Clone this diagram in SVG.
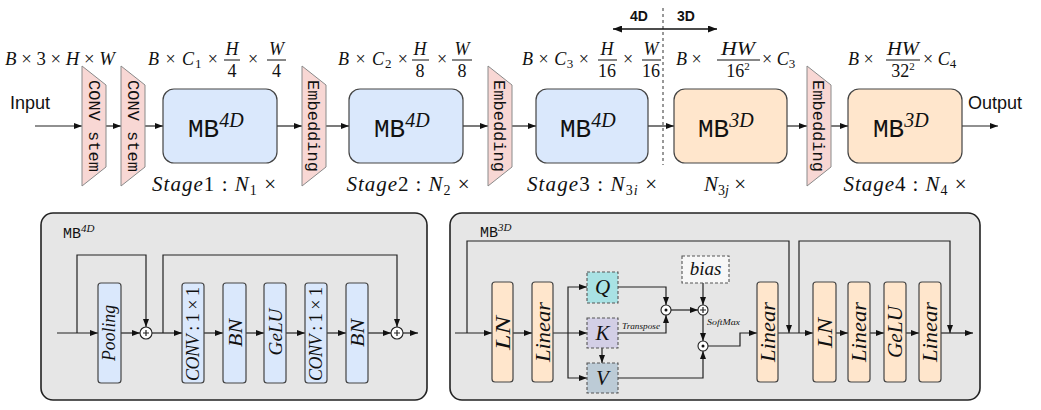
<svg xmlns="http://www.w3.org/2000/svg" width="1041" height="410" viewBox="0 0 1041 410">
<defs>
<marker id="ah" markerWidth="8" markerHeight="6" refX="8" refY="3" orient="auto" markerUnits="userSpaceOnUse"><path d="M0,0 L8,3 L0,6 z" fill="#111"/></marker>
<marker id="ahs" markerWidth="9" markerHeight="7" refX="9" refY="3.5" orient="auto-start-reverse" markerUnits="userSpaceOnUse"><path d="M0,0 L9,3.5 L0,7 z" fill="#111"/></marker>
</defs>
<style>
.ln{fill:none;stroke:#222;stroke-width:1.2}
.ar{fill:none;stroke:#222;stroke-width:1.2;marker-end:url(#ah)}
.trap{fill:#f8d7d4;stroke:#8a8a8a;stroke-width:1}
.mono{font-family:"Liberation Mono","DejaVu Sans Mono",monospace;fill:#111}
.m{font-family:"Liberation Serif","DejaVu Serif","Noto Serif",serif;fill:#111}
.i{font-style:italic}
.sans{font-family:"Liberation Sans",Arial,sans-serif;fill:#111}
.b4{fill:#dae8fc;stroke:#444;stroke-width:1.2}
.b3{fill:#ffe6cc;stroke:#444;stroke-width:1.2}
.panel{fill:#e6e6e6;stroke:#222;stroke-width:1.6}
.circ{fill:#fff;stroke:#222;stroke-width:1.1}
.frac{stroke:#111;stroke-width:1}
</style>
<rect x="0" y="0" width="1041" height="410" fill="#fff"/>

<g id="divider">
<line x1="663" y1="8" x2="663" y2="165" stroke="#333" stroke-width="1" stroke-dasharray="3,3"/>
<line x1="613" y1="29" x2="717" y2="29" stroke="#111" stroke-width="1.3" marker-start="url(#ahs)" marker-end="url(#ahs)"/>
<text class="sans" x="639" y="21" font-size="14" font-weight="bold" text-anchor="middle">4D</text>
<text class="sans" x="686" y="21" font-size="14" font-weight="bold" text-anchor="middle">3D</text>
</g>

<g id="top-connectors">
<line class="ar" x1="35" y1="126" x2="82" y2="126"/>
<line class="ar" x1="106" y1="126" x2="121" y2="126"/>
<line class="ar" x1="145" y1="126" x2="163" y2="126"/>
<line class="ar" x1="277" y1="126" x2="302" y2="126"/>
<line class="ar" x1="326" y1="126" x2="349" y2="126"/>
<line class="ar" x1="463" y1="126" x2="488" y2="126"/>
<line class="ar" x1="512" y1="126" x2="536" y2="126"/>
<line class="ar" x1="648" y1="126" x2="674" y2="126"/>
<line class="ar" x1="787" y1="126" x2="807" y2="126"/>
<line class="ar" x1="831" y1="126" x2="848" y2="126"/>
<line class="ar" x1="962" y1="126" x2="998" y2="126"/>
</g>

<text class="sans" x="10" y="109" font-size="18">Input</text>
<text class="sans" x="968" y="109" font-size="18">Output</text>

<g id="dims">
<text class="m" x="5" y="65" font-size="18" textLength="110" lengthAdjust="spacingAndGlyphs"><tspan class="i">B</tspan> × 3 × <tspan class="i">H</tspan> × <tspan class="i">W</tspan></text>

<text class="m" x="148" y="65" font-size="18" textLength="70" lengthAdjust="spacing"><tspan class="i">B</tspan> × <tspan class="i">C</tspan><tspan font-size="13" dy="3">1</tspan><tspan dy="-3"> ×</tspan></text>
<text class="m i" x="232" y="55" font-size="18" text-anchor="middle">H</text>
<line class="frac" x1="224" y1="60" x2="240" y2="60"/>
<text class="m" x="232" y="77" font-size="18" text-anchor="middle">4</text>
<text class="m" x="253" y="65" font-size="18" text-anchor="middle">×</text>
<text class="m i" x="276.5" y="55" font-size="18" text-anchor="middle">W</text>
<line class="frac" x1="267" y1="60" x2="286" y2="60"/>
<text class="m" x="276.5" y="77" font-size="18" text-anchor="middle">4</text>

<text class="m" x="338" y="65" font-size="18" textLength="70" lengthAdjust="spacing"><tspan class="i">B</tspan> × <tspan class="i">C</tspan><tspan font-size="13" dy="3">2</tspan><tspan dy="-3"> ×</tspan></text>
<text class="m i" x="420" y="55" font-size="18" text-anchor="middle">H</text>
<line class="frac" x1="412" y1="60" x2="429" y2="60"/>
<text class="m" x="420" y="77" font-size="18" text-anchor="middle">8</text>
<text class="m" x="442" y="65" font-size="18" text-anchor="middle">×</text>
<text class="m i" x="462" y="55" font-size="18" text-anchor="middle">W</text>
<line class="frac" x1="452" y1="60" x2="472" y2="60"/>
<text class="m" x="462" y="77" font-size="18" text-anchor="middle">8</text>

<text class="m" x="522" y="65" font-size="18" textLength="67" lengthAdjust="spacing"><tspan class="i">B</tspan> × <tspan class="i">C</tspan><tspan font-size="13" dy="3">3</tspan><tspan dy="-3"> ×</tspan></text>
<text class="m i" x="607" y="55" font-size="18" text-anchor="middle">H</text>
<line class="frac" x1="598" y1="60" x2="617" y2="60"/>
<text class="m" x="607" y="77" font-size="18" text-anchor="middle">16</text>
<text class="m" x="628" y="65" font-size="18" text-anchor="middle">×</text>
<text class="m i" x="651" y="55" font-size="18" text-anchor="middle">W</text>
<line class="frac" x1="642" y1="60" x2="661" y2="60"/>
<text class="m" x="651" y="77" font-size="18" text-anchor="middle">16</text>

<text class="m" x="676" y="65" font-size="18"><tspan class="i">B</tspan> ×</text>
<text class="m i" x="738" y="55" font-size="18" text-anchor="middle" textLength="34" lengthAdjust="spacingAndGlyphs">HW</text>
<line class="frac" x1="717" y1="60" x2="760" y2="60"/>
<text class="m" x="738" y="77" font-size="18" text-anchor="middle">16<tspan font-size="11" dy="-7">2</tspan></text>
<text class="m" x="762" y="65" font-size="18">× <tspan class="i">C</tspan><tspan font-size="13" dy="3">3</tspan></text>

<text class="m" x="848" y="65" font-size="18"><tspan class="i">B</tspan> ×</text>
<text class="m i" x="903" y="55" font-size="18" text-anchor="middle" textLength="32" lengthAdjust="spacingAndGlyphs">HW</text>
<line class="frac" x1="886" y1="60" x2="920" y2="60"/>
<text class="m" x="903" y="77" font-size="18" text-anchor="middle">32<tspan font-size="11" dy="-7">2</tspan></text>
<text class="m" x="923" y="65" font-size="18">× <tspan class="i">C</tspan><tspan font-size="13" dy="3">4</tspan></text>
</g>

<g id="stem1">
<polygon class="trap" points="82,66 106,85 106,167 82,186"/>
<text class="mono" font-size="17" text-anchor="middle" transform="translate(94.5,126) rotate(90)" y="6">CONV stem</text>
</g>
<g id="stem2">
<polygon class="trap" points="121,66 145,85 145,167 121,186"/>
<text class="mono" font-size="17" text-anchor="middle" transform="translate(133.5,126) rotate(90)" y="6">CONV stem</text>
</g>
<g id="stage1">
<rect class="b4" x="163" y="89" width="114" height="74" rx="11"/>
<text x="188" y="137"><tspan class="mono" font-size="26">MB</tspan><tspan class="m i" font-size="20" dy="-10">4D</tspan></text>
<text class="m" x="214" y="191" font-size="21" text-anchor="middle" textLength="124" lengthAdjust="spacing"><tspan class="i">Stage</tspan>1 : <tspan class="i">N</tspan><tspan font-size="14" dy="4">1</tspan><tspan dy="-4"> ×</tspan></text>
</g>
<g id="embed1">
<polygon class="trap" points="302,66 326,85 326,167 302,186"/>
<text class="mono" font-size="17" text-anchor="middle" transform="translate(314,126) rotate(90)" y="6">Embedding</text>
</g>
<g id="stage2">
<rect class="b4" x="349" y="89" width="114" height="74" rx="11"/>
<text x="374" y="137"><tspan class="mono" font-size="26">MB</tspan><tspan class="m i" font-size="20" dy="-10">4D</tspan></text>
<text class="m" x="408" y="191" font-size="21" text-anchor="middle" textLength="123" lengthAdjust="spacing"><tspan class="i">Stage</tspan>2 : <tspan class="i">N</tspan><tspan font-size="14" dy="4">2</tspan><tspan dy="-4"> ×</tspan></text>
</g>
<g id="embed2">
<polygon class="trap" points="488,66 512,85 512,167 488,186"/>
<text class="mono" font-size="17" text-anchor="middle" transform="translate(500,126) rotate(90)" y="6">Embedding</text>
</g>
<g id="stage3a">
<rect class="b4" x="536" y="89" width="112" height="74" rx="11"/>
<text x="560" y="137"><tspan class="mono" font-size="26">MB</tspan><tspan class="m i" font-size="20" dy="-10">4D</tspan></text>
<text class="m" x="592" y="191" font-size="21" text-anchor="middle" textLength="130" lengthAdjust="spacing"><tspan class="i">Stage</tspan>3 : <tspan class="i">N</tspan><tspan font-size="14" dy="4">3<tspan class="i">i</tspan></tspan><tspan dy="-4"> ×</tspan></text>
</g>
<g id="stage3b">
<rect class="b3" x="674" y="89" width="113" height="74" rx="11"/>
<text x="698" y="137"><tspan class="mono" font-size="26">MB</tspan><tspan class="m i" font-size="20" dy="-10">3D</tspan></text>
<text class="m" x="725" y="191" font-size="21" text-anchor="middle"><tspan class="i">N</tspan><tspan font-size="14" dy="4">3<tspan class="i">j</tspan></tspan><tspan dy="-4"> ×</tspan></text>
</g>
<g id="embed3">
<polygon class="trap" points="807,66 831,85 831,167 807,186"/>
<text class="mono" font-size="17" text-anchor="middle" transform="translate(819,126) rotate(90)" y="6">Embedding</text>
</g>
<g id="stage4">
<rect class="b3" x="848" y="89" width="114" height="74" rx="11"/>
<text x="873" y="137"><tspan class="mono" font-size="26">MB</tspan><tspan class="m i" font-size="20" dy="-10">3D</tspan></text>
<text class="m" x="905" y="191" font-size="21" text-anchor="middle" textLength="123" lengthAdjust="spacing"><tspan class="i">Stage</tspan>4 : <tspan class="i">N</tspan><tspan font-size="14" dy="4">4</tspan><tspan dy="-4"> ×</tspan></text>
</g>

<g id="panel-mb4d">
<rect class="panel" x="41" y="213" width="386" height="187" rx="12"/>
<text x="63" y="238"><tspan class="mono" font-size="15">MB</tspan><tspan class="m i" font-size="11" dy="-6">4D</tspan></text>
</g>
<g id="mb4d-connectors">
<line class="ar" x1="57" y1="333" x2="98" y2="333"/>
<path class="ar" d="M77,333 V255 H146 V327"/>
<line class="ar" x1="121" y1="333" x2="140" y2="333"/>
<line class="ar" x1="152" y1="333" x2="182" y2="333"/>
<path class="ar" d="M163,333 V255 H397 V327"/>
<line class="ar" x1="204" y1="333" x2="223" y2="333"/>
<line class="ar" x1="246" y1="333" x2="264" y2="333"/>
<line class="ar" x1="286" y1="333" x2="305" y2="333"/>
<line class="ar" x1="327" y1="333" x2="346" y2="333"/>
<line class="ar" x1="368" y1="333" x2="391" y2="333"/>
<line class="ar" x1="403" y1="333" x2="418" y2="333"/>
</g>
<g id="mb4d-pooling">
<rect class="b4" x="98" y="283" width="23" height="100" rx="3"/>
<text class="m i" font-size="18" text-anchor="middle" transform="translate(109.5,333) rotate(-90)" y="5" textLength="56" lengthAdjust="spacingAndGlyphs">Pooling</text>
</g>
<g id="mb4d-add1">
<circle class="circ" cx="146" cy="333" r="6"/>
<path class="ln" d="M143,333 H149 M146,330 V336" stroke-width="0.8"/>
</g>
<g id="mb4d-conv1">
<rect class="b4" x="182" y="283" width="22" height="100" rx="3"/>
<text class="m" font-size="18" text-anchor="middle" transform="translate(193,334) rotate(-90)" y="6" textLength="94" lengthAdjust="spacing"><tspan class="i">CONV</tspan> : 1 × 1</text>
</g>
<g id="mb4d-bn1">
<rect class="b4" x="223" y="283" width="23" height="100" rx="3"/>
<text class="m i" font-size="19" text-anchor="middle" transform="translate(234.5,333) rotate(-90)" y="7" textLength="28" lengthAdjust="spacingAndGlyphs">BN</text>
</g>
<g id="mb4d-gelu">
<rect class="b4" x="264" y="283" width="22" height="100" rx="3"/>
<text class="m i" font-size="19" text-anchor="middle" transform="translate(275,332) rotate(-90)" y="7" textLength="47" lengthAdjust="spacingAndGlyphs">GeLU</text>
</g>
<g id="mb4d-conv2">
<rect class="b4" x="305" y="283" width="22" height="100" rx="3"/>
<text class="m" font-size="18" text-anchor="middle" transform="translate(316,334) rotate(-90)" y="6" textLength="94" lengthAdjust="spacing"><tspan class="i">CONV</tspan> : 1 × 1</text>
</g>
<g id="mb4d-bn2">
<rect class="b4" x="346" y="283" width="22" height="100" rx="3"/>
<text class="m i" font-size="19" text-anchor="middle" transform="translate(357,333) rotate(-90)" y="7" textLength="28" lengthAdjust="spacingAndGlyphs">BN</text>
</g>
<g id="mb4d-add2">
<circle class="circ" cx="397" cy="333" r="6"/>
<path class="ln" d="M394,333 H400 M397,330 V336" stroke-width="0.8"/>
</g>

<g id="panel-mb3d">
<rect class="panel" x="450" y="213" width="530" height="187" rx="12"/>
<text x="480" y="237"><tspan class="mono" font-size="15">MB</tspan><tspan class="m i" font-size="11" dy="-6">3D</tspan></text>
</g>
<g id="mb3d-connectors">
<line class="ar" x1="455" y1="333" x2="492" y2="333"/>
<path class="ar" d="M467,333 V241 H789 V333"/>
<line class="ar" x1="513" y1="333" x2="532" y2="333"/>
<line class="ar" x1="553" y1="333" x2="587" y2="333"/>
<path class="ar" d="M568,333 V287 H587"/>
<path class="ar" d="M568,333 V378 H587"/>
<line class="ar" x1="602" y1="348" x2="602" y2="363"/>
<path class="ar" d="M618,287 H666 V305"/>
<path class="ar" d="M618,333 H666 V315"/>
<line class="ar" x1="671" y1="310" x2="698" y2="310"/>
<line class="ar" x1="703" y1="283" x2="703" y2="305"/>
<line class="ar" x1="703" y1="315" x2="703" y2="341"/>
<path class="ar" d="M618,378 H703 V351"/>
<path class="ar" d="M708,346 H740 V333 H757"/>
<line class="ar" x1="778" y1="333" x2="813" y2="333"/>
<path class="ar" d="M799,333 V241 H950 V333"/>
<line class="ar" x1="836" y1="333" x2="848" y2="333"/>
<line class="ar" x1="870" y1="333" x2="884" y2="333"/>
<line class="ar" x1="906" y1="333" x2="919" y2="333"/>
<line class="ar" x1="941" y1="333" x2="973" y2="333"/>
<text class="m i" x="622" y="329" font-size="9" textLength="38" lengthAdjust="spacingAndGlyphs">Transpose</text>
<text class="m i" x="707" y="325" font-size="9" textLength="33" lengthAdjust="spacingAndGlyphs">SoftMax</text>
</g>
<g id="mb3d-ln1">
<rect class="b3" x="492" y="282" width="21" height="100" rx="3"/>
<text class="m i" font-size="21" text-anchor="middle" transform="translate(502.5,333) rotate(-90)" y="7" textLength="34" lengthAdjust="spacingAndGlyphs">LN</text>
</g>
<g id="mb3d-linear1">
<rect class="b3" x="532" y="282" width="21" height="100" rx="3"/>
<text class="m i" font-size="21" text-anchor="middle" transform="translate(542.5,332) rotate(-90)" y="7" textLength="60" lengthAdjust="spacingAndGlyphs">Linear</text>
</g>
<g id="mb3d-q">
<rect x="587" y="272" width="31" height="31" fill="#a9e2e4" stroke="#555" stroke-width="1.1" stroke-dasharray="3,2"/>
<text class="m i" x="602.5" y="294" font-size="21" text-anchor="middle">Q</text>
</g>
<g id="mb3d-k">
<rect x="587" y="318" width="31" height="30" fill="#d3cfe6" stroke="#555" stroke-width="1.1" stroke-dasharray="3,2"/>
<text class="m i" x="602.5" y="340" font-size="21" text-anchor="middle">K</text>
</g>
<g id="mb3d-v">
<rect x="587" y="363" width="31" height="30" fill="#bccbd6" stroke="#555" stroke-width="1.1" stroke-dasharray="3,2"/>
<text class="m i" x="602.5" y="385" font-size="21" text-anchor="middle">V</text>
</g>
<g id="mb3d-bias">
<rect x="682" y="256" width="47" height="27" fill="#f7f7f7" stroke="#555" stroke-width="1.1" stroke-dasharray="3,2"/>
<text class="m i" x="705.5" y="275" font-size="19" text-anchor="middle">bias</text>
</g>
<g id="mb3d-mul1">
<circle class="circ" cx="666" cy="310" r="5"/>
<circle cx="666" cy="310" r="1.5" fill="#111"/>
</g>
<g id="mb3d-add">
<circle class="circ" cx="703" cy="310" r="5"/>
<path class="ln" d="M700,310 H706 M703,307 V313" stroke-width="0.8"/>
</g>
<g id="mb3d-mul2">
<circle class="circ" cx="703" cy="346" r="5"/>
<circle cx="703" cy="346" r="1.5" fill="#111"/>
</g>
<g id="mb3d-linear2">
<rect class="b3" x="757" y="282" width="21" height="100" rx="3"/>
<text class="m i" font-size="21" text-anchor="middle" transform="translate(767.5,332) rotate(-90)" y="7" textLength="60" lengthAdjust="spacingAndGlyphs">Linear</text>
</g>
<g id="mb3d-ln2">
<rect class="b3" x="813" y="282" width="23" height="100" rx="3"/>
<text class="m i" font-size="21" text-anchor="middle" transform="translate(824.5,333) rotate(-90)" y="7" textLength="30" lengthAdjust="spacingAndGlyphs">LN</text>
</g>
<g id="mb3d-linear3">
<rect class="b3" x="848" y="282" width="22" height="100" rx="3"/>
<text class="m i" font-size="21" text-anchor="middle" transform="translate(859,332) rotate(-90)" y="7" textLength="60" lengthAdjust="spacingAndGlyphs">Linear</text>
</g>
<g id="mb3d-gelu">
<rect class="b3" x="884" y="282" width="22" height="100" rx="3"/>
<text class="m i" font-size="20" text-anchor="middle" transform="translate(895,332) rotate(-90)" y="7" textLength="52" lengthAdjust="spacingAndGlyphs">GeLU</text>
</g>
<g id="mb3d-linear4">
<rect class="b3" x="919" y="282" width="22" height="100" rx="3"/>
<text class="m i" font-size="21" text-anchor="middle" transform="translate(930,332) rotate(-90)" y="7" textLength="60" lengthAdjust="spacingAndGlyphs">Linear</text>
</g>
</svg>
